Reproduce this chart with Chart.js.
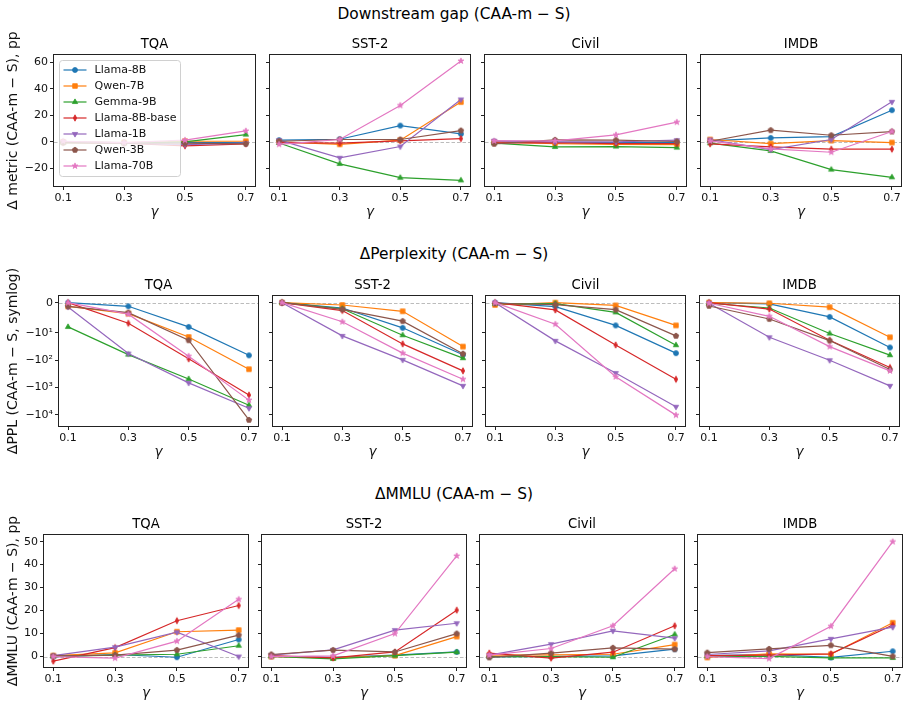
<!DOCTYPE html>
<html>
<head>
<meta charset="utf-8">
<script src="https://cdn.jsdelivr.net/npm/chart.js@4.4.1/dist/chart.umd.min.js"></script>
<style>
  body { margin: 0; background: #fff; width: 908px; height: 706px; position: relative; overflow: hidden; font-family: 'DejaVu Sans', sans-serif; }
  .rowtitle { position: absolute; left: 0; width: 908px; text-align: center; font-size: 15.4px; line-height: 18px; color: #000; }
  canvas { position: absolute; }
</style>
</head>
<body>
<div class="rowtitle" style="top:5px">Downstream gap (CAA-m − S)</div>
<div class="rowtitle" style="top:245px">ΔPerplexity (CAA-m − S)</div>
<div class="rowtitle" style="top:485px">ΔMMLU (CAA-m − S)</div>
<script>
// x values and names
const gammas = [0.1, 0.3, 0.5, 0.7];
const models = ['Llama-8B', 'Qwen-7B', 'Gemma-9B', 'Llama-8B-base', 'Llama-1B', 'Qwen-3B', 'Llama-70B'];
const tasks = ['TQA', 'SST-2', 'Civil', 'IMDB'];

// tick labels
const gapTicks = [-20, 0, 20, 40, 60];
const pplTicks = [0, -10, -100, -1000, -10000];
const pplTickLabels = ['0', '−10¹', '−10²', '−10³', '−10⁴'];
const mmluTicks = [0, 10, 20, 30, 40, 50];

// row 1: downstream gap, pp (rows = models, cols = gamma)
const gapTQA = [
  [0, -0.5, -0.5, -0.5],
  [0, -0.5, 0.5, 0.5],
  [-0.5, -1, 0, 5.5],
  [-0.5, -1, -3, -1.5],
  [0, -1, -2, -1],
  [-0.5, -1, -1, -1.5],
  [0.5, -0.5, 1.3, 8.3]
];
const gapSST2 = [
  [1.3, 2, 12.3, 6],
  [0, -1.8, 1.3, 30],
  [-0.8, -16.6, -27, -29],
  [-0.5, -1, 0.8, 2.5],
  [1.3, -12, -3.5, 32],
  [0.5, 1.8, 1.8, 8.5],
  [-1.8, 1.8, 27.5, 61]
];
const gapCivil = [
  [0.3, -0.3, -0.5, -0.3],
  [0, -1.3, -1.8, -2],
  [-1, -3.8, -3.5, -4.3],
  [-0.8, -0.5, -1.3, -1.3],
  [0.8, 0, 0, 1.3],
  [-1.5, 1.5, 1.3, 0.3],
  [0.8, 0.8, 5.3, 14.9]
];
const gapIMDB = [
  [0.8, 3, 4, 23.9],
  [1.8, -1.3, 1, -0.5],
  [-1, -6.8, -20.9, -26.7],
  [-1.5, -3.8, -5.5, -5.5],
  [1.8, -5.8, 1.8, 30.2],
  [0.5, 8.8, 5, 7.8],
  [0.8, -5.3, -7.8, 7.8]
];

// row 2: perplexity difference (symlog)
const pplTQA = [
  [0, -1.2, -8, -66],
  [-1.2, -3.6, -14, -213],
  [-8, -62, -490, -4470],
  [0, -6.8, -89, -1900],
  [-1.4, -57, -675, -5750],
  [-1.2, -3.3, -18.5, -15500],
  [0, -3.8, -71, -2900]
];
const pplSST2 = [
  [0, -1.76, -8.3, -63],
  [0, -0.77, -2.85, -31.6],
  [0, -2.0, -12.1, -84],
  [0, -2.6, -25.2, -245],
  [0, -12.8, -97, -870],
  [0, -2.2, -6.1, -58],
  [0, -6.3, -55, -500]
];
const pplCivil = [
  [0, -1.3, -7.5, -55],
  [-0.77, 0, -0.9, -7.5],
  [-0.4, -0.3, -3.2, -28],
  [0, -2.4, -27.5, -500],
  [0, -19.5, -295, -5100],
  [-0.2, -0.66, -2.3, -12.8],
  [0, -7.1, -405, -10300]
];
const pplIMDB = [
  [0, -0.4, -4.7, -34],
  [0, -0.2, -1.5, -14.4],
  [-0.2, -1.76, -10.5, -65],
  [0, -2.1, -18.5, -185],
  [-0.2, -14.4, -100, -870],
  [-1.1, -5.4, -19, -220],
  [-0.2, -4.5, -31.6, -245]
];

// row 3: MMLU difference, pp
const mmluTQA = [
  [-0.1, 0.9, -0.3, 7.4],
  [0.4, 1.6, 10.8, 11.5],
  [0.1, 0.6, 1.0, 4.7],
  [-2.0, 3.9, 15.6, 22.2],
  [0.4, 4.1, 10.6, 0],
  [0.3, 0.6, 2.8, 9.3],
  [0, -0.7, 6.7, 24.9]
];
const mmluSST2 = [
  [0.1, -0.4, 0.6, 2.0],
  [0, -0.6, 0.4, 8.7],
  [0.1, -1.0, 0.4, 1.9],
  [0.4, -0.6, 2.0, 20.2],
  [0.6, 2.9, 11.5, 14.5],
  [0.9, 2.8, 2.0, 10],
  [0, 0.3, 10, 43.8]
];
const mmluCivil = [
  [-0.1, 0.1, 0.3, 3.2],
  [0.6, 0.7, 1.0, 5.2],
  [0, 0, -0.3, 9.6],
  [1.5, -0.7, 1.9, 13.4],
  [0.6, 5.4, 11.2, 8.0],
  [-0.4, 1.5, 3.8, 3.2],
  [0.6, 3.5, 13.4, 38.2]
];
const mmluIMDB = [
  [0.4, 0.9, -0.4, 2.3],
  [-0.4, 1.2, 1.0, 14.7],
  [0.1, 0.1, -0.6, -0.6],
  [0.4, 0.6, 1.2, 13.7],
  [0.9, 2.5, 7.7, 12.8],
  [1.7, 3.3, 4.9, 0.1],
  [0, -0.9, 13.2, 50]
];

const FONT = "'DejaVu Sans', sans-serif";
const COLORS = ['#1f77b4', '#ff7f0e', '#2ca02c', '#d62728', '#9467bd', '#8c564b', '#e377c2'];
const SHAPES = ['o', 's', '^', 'd', 'v', 'p', '*'];

// symlog scale (linthresh 10, like matplotlib)
const LINTHRESH = 10, LINSCALE = 1 / (1 - 1 / 10);
function symlog(v) {
  const a = Math.abs(v);
  return a <= LINTHRESH ? v * LINSCALE : Math.sign(v) * LINTHRESH * (LINSCALE + Math.log10(a / LINTHRESH));
}
function symexp(t) {
  const a = Math.abs(t);
  return a <= LINTHRESH * LINSCALE ? t / LINSCALE : Math.sign(t) * LINTHRESH * Math.pow(10, a / LINTHRESH - LINSCALE);
}
class SymlogScale extends Chart.LinearScale {
  getPixelForValue(v) {
    const a = symlog(this.min), b = symlog(this.max);
    return this.getPixelForDecimal((symlog(v) - a) / (b - a));
  }
  getValueForPixel(p) {
    const a = symlog(this.min), b = symlog(this.max);
    return symexp(a + this.getDecimalForPixel(p) * (b - a));
  }
}
SymlogScale.id = 'symlog';
SymlogScale.defaults = Chart.LinearScale.defaults;
Chart.register(SymlogScale);

// matplotlib-like markers
function makeMarker(shape, color) {
  const c = document.createElement('canvas');
  c.width = c.height = 12;
  const g = c.getContext('2d');
  g.translate(6, 6);
  g.fillStyle = color; g.strokeStyle = color; g.lineWidth = 0.8;
  g.beginPath();
  const poly = (n, r, rot) => {
    for (let k = 0; k < n; k++) {
      const a = rot + k * 2 * Math.PI / n;
      g.lineTo(r * Math.cos(a), r * Math.sin(a));
    }
  };
  if (shape === 'o') g.arc(0, 0, 2.5, 0, 2 * Math.PI);
  else if (shape === 's') g.rect(-2.3, -2.3, 4.6, 4.6);
  else if (shape === '^') poly(3, 3.1, -Math.PI / 2);
  else if (shape === 'v') poly(3, 3.1, Math.PI / 2);
  else if (shape === 'd') { g.moveTo(0, -3.2); g.lineTo(1.7, 0); g.lineTo(0, 3.2); g.lineTo(-1.7, 0); }
  else if (shape === 'p') poly(5, 2.9, -Math.PI / 2);
  else if (shape === '*') {
    for (let k = 0; k < 10; k++) {
      const r = k % 2 ? 1.2 : 3.1, a = -Math.PI / 2 + k * Math.PI / 5;
      g.lineTo(r * Math.cos(a), r * Math.sin(a));
    }
  }
  g.closePath(); g.fill(); g.stroke();
  return c;
}
const MARKERS = SHAPES.map((s, i) => makeMarker(s, COLORS[i]));

// zero line + frame
const panelDecor = {
  id: 'panelDecor',
  beforeDatasetsDraw(chart) {
    const { ctx, chartArea: a } = chart;
    const y0 = Math.round(chart.scales.y.getPixelForValue(0)) + 0.5;
    ctx.save();
    ctx.strokeStyle = '#b4b4b4'; ctx.lineWidth = 0.9; ctx.setLineDash([3.5, 2]);
    ctx.beginPath(); ctx.moveTo(a.left, y0); ctx.lineTo(a.right, y0); ctx.stroke();
    ctx.restore();
  },
  afterDatasetsDraw(chart) {
    const { ctx, chartArea: a } = chart;
    ctx.save();
    ctx.strokeStyle = '#222'; ctx.lineWidth = 1;
    ctx.strokeRect(Math.round(a.left) - 0.5, Math.round(a.top) - 0.5, Math.round(a.right - a.left) + 1, Math.round(a.bottom - a.top) + 1);
    ctx.restore();
  }
};

// legend inside the first panel
const insetLegend = {
  id: 'insetLegend',
  afterDatasetsDraw(chart) {
    const { ctx, chartArea: a } = chart;
    const bx = a.left + 5.5, by = a.top + 5.5, bw = 121, bh = 116;
    ctx.save();
    ctx.beginPath();
    ctx.roundRect(bx, by, bw, bh, 3);
    ctx.fillStyle = 'rgba(255,255,255,0.8)'; ctx.fill();
    ctx.strokeStyle = '#d0d0d0'; ctx.lineWidth = 1; ctx.stroke();
    ctx.font = '11px ' + FONT; ctx.textBaseline = 'middle';
    chart.data.datasets.forEach((d, i) => {
      const yy = by + 9.5 + 16 * i;
      ctx.strokeStyle = d.borderColor; ctx.lineWidth = d.borderWidth;
      ctx.beginPath(); ctx.moveTo(bx + 4, yy); ctx.lineTo(bx + 27, yy); ctx.stroke();
      ctx.drawImage(d.pointStyle, bx + 15.5 - 6, yy - 6);
      ctx.fillStyle = '#111';
      ctx.fillText(d.label, bx + 35, yy + 0.5);
    });
    ctx.restore();
  }
};

const fmtMinus = v => String(v).replace('-', '−');

const rows = [
  { panels: [gapTQA, gapSST2, gapCivil, gapIMDB], ticks: gapTicks, label: fmtMinus, type: 'linear',
    min: -33.25, max: 65.5, ylabel: 'Δ metric (CAA-m − S), pp',
    top: 55, bottom: 186, left: 54, right: 901, gap: 15 },
  { panels: [pplTQA, pplSST2, pplCivil, pplIMDB], ticks: pplTicks, label: (v, i) => pplTickLabels[i], type: 'symlog',
    min: -25800, max: 2.2, ylabel: 'ΔPPL (CAA-m − S, symlog)',
    top: 296, bottom: 426, left: 59, right: 899, gap: 14.5 },
  { panels: [mmluTQA, mmluSST2, mmluCivil, mmluIMDB], ticks: mmluTicks, label: fmtMinus, type: 'linear',
    min: -4.55, max: 52.9, ylabel: 'ΔMMLU (CAA-m − S), pp',
    top: 535, bottom: 667, left: 44, right: 902, gap: 14.5 }
];

const TITLE_H = 18, X_H = 34, PAD_R = 8, Y_W = 6, EXTRA_TOP = 30;

rows.forEach((R, r) => {
  const w = (R.right - R.left - 3 * R.gap) / 4;
  R.panels.forEach((values, c) => {
    const axL = Math.round(R.left + c * (w + R.gap));
    const axR = Math.round(R.left + c * (w + R.gap) + w);
    const yW = c === 0 ? axL : Y_W;
    const padT = c === 0 ? EXTRA_TOP : 0;
    const cv = document.createElement('canvas');
    cv.width = yW + (axR - axL) + PAD_R;
    cv.height = padT + TITLE_H + (R.bottom - R.top) + X_H;
    cv.style.left = (axL - yW) + 'px';
    cv.style.top = (R.top - TITLE_H - padT) + 'px';
    document.body.appendChild(cv);

    new Chart(cv, {
      type: 'line',
      data: {
        datasets: models.map((m, i) => ({
          label: m,
          data: gammas.map((g, j) => ({ x: g, y: values[i][j] })),
          borderColor: COLORS[i],
          backgroundColor: COLORS[i],
          borderWidth: 1.2,
          pointStyle: MARKERS[i],
          pointRadius: 3,
          pointHoverRadius: 3,
          tension: 0,
          order: models.length - i
        }))
      },
      options: {
        responsive: false,
        animation: false,
        events: [],
        layout: { padding: { left: 0, top: padT, bottom: 0, right: PAD_R } },
        plugins: {
          legend: { display: false },
          tooltip: { enabled: false },
          title: {
            display: true, text: tasks[c], color: '#000', fullSize: false,
            font: { family: FONT, size: 13.2, weight: 'normal', lineHeight: '16px' },
            padding: { top: 0, bottom: 2 }
          }
        },
        scales: {
          x: {
            type: 'linear', min: 0.07, max: 0.73,
            border: { display: false },
            grid: { drawOnChartArea: false, drawTicks: true, tickLength: 4, tickColor: '#222' },
            ticks: { color: '#111', font: { family: FONT, size: 11 }, padding: 2, maxRotation: 0, autoSkip: false,
                     callback: v => v.toFixed(1) },
            afterBuildTicks: s => { s.ticks = gammas.map(v => ({ value: v })); },
            afterFit: s => { s.height = X_H; },
            title: { display: true, text: 'γ', color: '#111',
                     font: { family: FONT, size: 13.5, style: 'italic', lineHeight: '16px' },
                     padding: { top: 0, bottom: 0 } }
          },
          y: {
            type: R.type, min: R.min, max: R.max,
            border: { display: false },
            grid: { drawOnChartArea: false, drawTicks: true, tickLength: 4, tickColor: '#222' },
            ticks: { display: c === 0, color: '#111', font: { family: FONT, size: 11 }, padding: 2, autoSkip: false,
                     callback: R.label },
            afterBuildTicks: s => { s.ticks = R.ticks.map(v => ({ value: v })); },
            afterFit: s => { s.width = yW; },
            title: { display: c === 0, text: R.ylabel, color: '#111',
                     font: { family: FONT, size: 14, lineHeight: '16px' },
                     padding: { top: 5, bottom: 0 } }
          }
        }
      },
      plugins: (r === 0 && c === 0) ? [panelDecor, insetLegend] : [panelDecor]
    });
  });
});
</script>
</body>
</html>
